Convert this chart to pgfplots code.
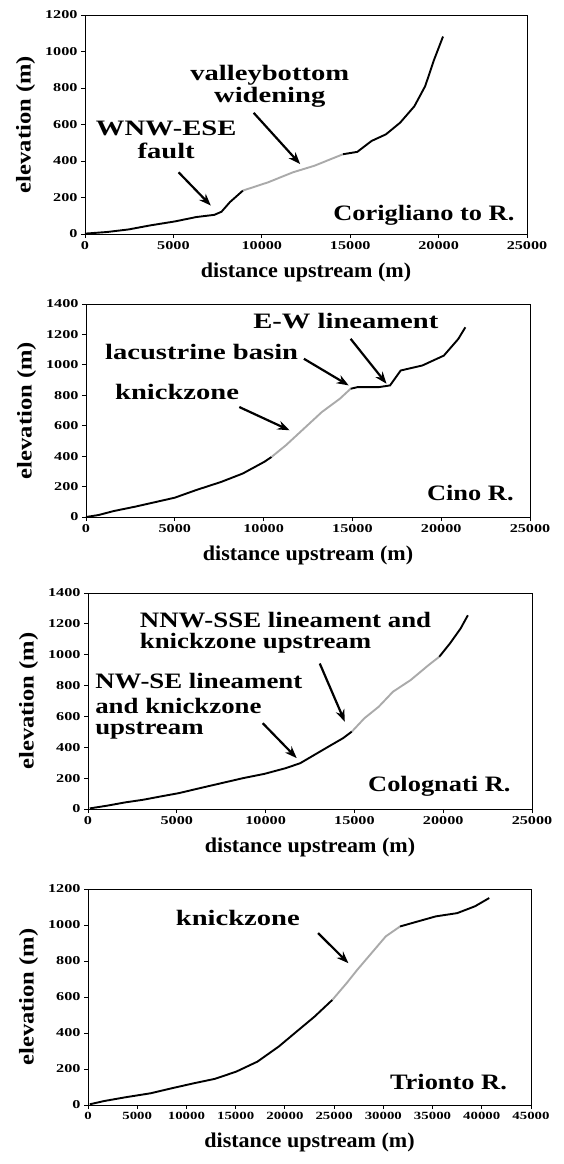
\documentclass[border=0pt]{standalone}
\usepackage{graphicx}
\usepackage{pgfplots}
\pgfplotsset{compat=1.18}
\usepackage{fontspec}
\setmainfont{Liberation Serif}
\usetikzlibrary{arrows.meta}
\definecolor{knick}{RGB}{170,170,170}
\newcommand\hs[2]{\scalebox{#1}[1]{#2}}
\pgfplotsset{
  riverax/.style={
    scale only axis, width=443pt, height=216pt,
    anchor=north west, clip=false,
    tick pos=left, tick align=outside, major tick length=4pt,
    axis line style={line width=0.9pt},
    every tick/.style={line width=0.9pt,black},
    scaled ticks=false,
    /pgf/number format/assume math mode=true,
    /pgf/number format/set thousands separator={},
    tick label style={font=\fontsize{12}{14}\selectfont\bfseries},
    xticklabel={\hs{1.35}{\pgfmathprintnumber{\tick}}},
    yticklabel={\hs{1.35}{\pgfmathprintnumber{\tick}}},
    label style={font=\fontsize{21}{23}\selectfont\bfseries},
    xlabel={\hs{1.05}{distance upstream (m)}},
    ylabel={\hs{1.17}{elevation (m)}},
    xlabel style={yshift=-6pt},
    ylabel style={yshift=3pt},
    ymin=0, xmin=0,
  },
}
\tikzset{
  blk/.style={black, line width=1.9pt},
  gry/.style={knick, line width=1.9pt},
  ann/.style={font=\fontsize{22}{22}\selectfont\bfseries, inner sep=0pt},
  arr/.style={-{Stealth[length=12pt,width=9pt]}, line width=2.2pt, black},
}
\begin{document}
\begin{tikzpicture}
\useasboundingbox (0,0) rectangle (563pt,-1164pt);
% Panel 1: Corigliano
\begin{axis}[riverax, at={(85pt,-15pt)}, width=442pt, height=219pt,
  xmax=25000, ymax=1200, xtick={0,5000,...,25000}, ytick={0,200,...,1200}]
\addplot[blk] coordinates {(0,2) (1250,11) (2466,25) (3680,47) (5090,69) (6300,93) (7316,105) (7720,122) (8200,175) (8933,238)};
\addplot[gry] coordinates {(8933,238) (10350,283) (11760,338) (12975,374) (14590,437)};
\addplot[blk] coordinates {(14590,437) (15400,450) (16210,510) (17020,546) (17825,610) (18630,700) (19240,810) (19745,955) (20250,1082)};
\node[ann] at (axis cs:4590,578) {\hs{1.3}{WNW-ESE}};
\node[ann] at (axis cs:4590,455) {\hs{1.3}{fault}};
\draw[arr] (axis cs:5295,338) -- (axis cs:7115,156);
\node[ann] at (axis cs:10450,872) {\hs{1.3}{valleybottom}};
\node[ann] at (axis cs:10450,750) {\hs{1.3}{widening}};
\draw[arr] (axis cs:9540,664) -- (axis cs:12170,383);
\node[ann, anchor=east] at (axis cs:24300,100) {\hs{1.2}{Corigliano to R.}};
\end{axis}
% Panel 2: Cino
\begin{axis}[riverax, at={(86pt,-304pt)}, width=444pt, height=213pt,
  xmax=25000, ymax=1400, xtick={0,5000,...,25000}, ytick={0,200,...,1400}]
\addplot[blk] coordinates {(0,0) (707,13) (1556,39) (2770,68) (3980,100) (5000,127) (6200,177) (7620,231) (8830,286) (10045,363) (10450,395)};
\addplot[gry] coordinates {(10450,395) (11260,472) (12270,581) (13280,690) (14290,777) (14900,843)};
\addplot[blk] coordinates {(14900,843) (15300,854) (16510,854) (17120,865) (17720,963) (18940,996) (20150,1061) (20960,1170) (21360,1247)};
\node[ann] at (axis cs:14630,1291) {\hs{1.3}{E-W lineament}};
\node[ann] at (axis cs:6510,1083) {\hs{1.3}{lacustrine basin}};
\node[ann] at (axis cs:5130,821) {\hs{1.3}{knickzone}};
\draw[arr] (axis cs:8630,723) -- (axis cs:11460,570);
\draw[arr] (axis cs:12270,1040) -- (axis cs:14790,865);
\draw[arr] (axis cs:14900,1171) -- (axis cs:16920,876);
\node[ann, anchor=east] at (axis cs:24090,155) {\hs{1.2}{Cino R.}};
\end{axis}
% Panel 3: Colognati
\begin{axis}[riverax, at={(88pt,-593pt)}, width=444pt, height=216pt,
  xmax=25000, ymax=1400, xtick={0,5000,...,25000}, ytick={0,200,...,1400}]
\addplot[blk] coordinates {(100,4) (1100,22) (2100,43) (3110,60) (4120,82) (5120,103) (6330,136) (7530,168) (8730,200) (9940,228) (11140,265) (11950,297) (12750,351) (13550,405) (14360,459) (14860,502)};
\addplot[gry] coordinates {(14860,502) (15560,588) (16370,663) (17170,760) (18170,836) (19180,933) (19780,987)};
\addplot[blk] coordinates {(19780,987) (20380,1073) (20980,1170) (21390,1256)};
\node[ann, anchor=west] at (axis cs:2910,1228) {\hs{1.22}{NNW-SSE lineament and}};
\node[ann, anchor=west] at (axis cs:2910,1075) {\hs{1.22}{knickzone upstream}};
\draw[arr] (axis cs:13050,943) -- (axis cs:14460,566);
\node[ann, anchor=west] at (axis cs:400,830) {\hs{1.22}{NW-SE lineament}};
\node[ann, anchor=west] at (axis cs:400,670) {\hs{1.22}{and knickzone}};
\node[ann, anchor=west] at (axis cs:400,505) {\hs{1.22}{upstream}};
\draw[arr] (axis cs:9840,556) -- (axis cs:11750,330);
\node[ann, anchor=east] at (axis cs:23800,146) {\hs{1.2}{Colognati R.}};
\end{axis}
% Panel 4: Trionto
\begin{axis}[riverax, at={(88pt,-889pt)}, width=443pt, height=216pt,
  xmax=45000, ymax=1200, xtick={0,5000,...,45000}, ytick={0,200,...,1200},
  xticklabel style={font=\fontsize{11}{13}\selectfont\bfseries}]
\addplot[blk] coordinates {(180,4) (1630,22) (3800,43) (6340,65) (8510,93) (10690,120) (12860,145) (15040,185) (17210,241) (19380,325) (21190,408) (23010,491) (24820,584)};
\addplot[gry] coordinates {(24820,584) (26270,677) (27350,751) (28800,844) (30250,937) (31700,992)};
\addplot[blk] coordinates {(31700,992) (33510,1020) (35330,1048) (37500,1066) (39310,1104) (40760,1150)};
\node[ann] at (axis cs:15220,1039) {\hs{1.3}{knickzone}};
\draw[arr] (axis cs:23370,955) -- (axis cs:26450,788);
\node[ann, anchor=east] at (axis cs:42570,130) {\hs{1.2}{Trionto R.}};
\end{axis}
\end{tikzpicture}
\end{document}
